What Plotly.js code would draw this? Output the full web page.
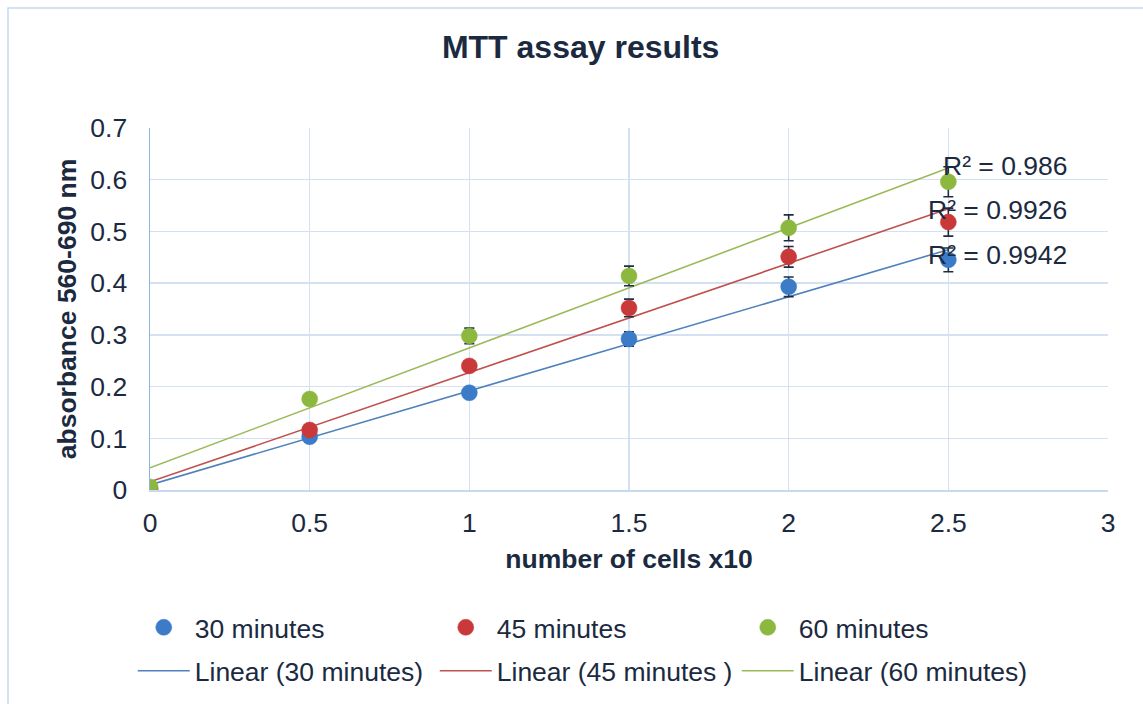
<!DOCTYPE html>
<html>
<head>
<meta charset="utf-8">
<script src="https://cdn.plot.ly/plotly-3.0.1.min.js"></script>
<style>
html,body{margin:0;padding:0;background:#fff;}
#chart{width:1143px;height:704px;}
</style>
</head>
<body>
<div id="chart"></div>
<script>
// ---- data ----
const cells = [0, 0.5, 1, 1.5, 2, 2.5];
const seriesNames = ['30 minutes', '45 minutes', '60 minutes'];
const trendNames = ['Linear (30 minutes)', 'Linear (45 minutes )', 'Linear (60 minutes)'];
const abs30 = [0.003, 0.103, 0.188, 0.292, 0.393, 0.445];
const abs45 = [0.002, 0.116, 0.240, 0.352, 0.451, 0.518];
const abs60 = [0.006, 0.176, 0.298, 0.414, 0.507, 0.596];
const err30 = [0.003, 0.005, 0.005, 0.014, 0.019, 0.023];
const err45 = [0.002, 0.005, 0.008, 0.017, 0.020, 0.027];
const err60 = [0.003, 0.005, 0.015, 0.019, 0.025, 0.029];
const r2Labels = ['R² = 0.9942', 'R² = 0.9926', 'R² = 0.986'];
const xTicks = [0, 0.5, 1, 1.5, 2, 2.5, 3];
const yTicks = [0, 0.1, 0.2, 0.3, 0.4, 0.5, 0.6, 0.7];

const markerColors = ['#3b7bc8', '#c9393a', '#8cb83f'];
const lineColors = ['#4f81bd', '#c0504d', '#9bbb59'];
const textColor = '#1b2a3f';
const FONT = 'Liberation Sans, Arial, sans-serif';
const labelShift = [-5, -1, 2];

function fit(x, y) {
  const n = x.length;
  const mx = x.reduce((a, b) => a + b, 0) / n;
  const my = y.reduce((a, b) => a + b, 0) / n;
  let sxy = 0, sxx = 0;
  for (let i = 0; i < n; i++) { sxy += (x[i] - mx) * (y[i] - my); sxx += (x[i] - mx) ** 2; }
  const m = sxy / sxx;
  return { m: m, b: my - m * mx };
}

const ys = [abs30, abs45, abs60];
const errs = [err30, err45, err60];
const traces = [];
const xMin = Math.min(...cells), xMax = Math.max(...cells);
const fits = ys.map(y => fit(cells, y));

// trendlines first (under markers)
fits.forEach((f, i) => {
  traces.push({
    x: [xMin, xMax], y: [f.b + f.m * xMin, f.b + f.m * xMax],
    mode: 'lines', type: 'scatter', name: trendNames[i],
    line: { color: lineColors[i], width: 1.6 },
    legend: 'legend2', hoverinfo: 'skip'
  });
});
ys.forEach((y, i) => {
  traces.push({
    x: cells, y: y, mode: 'markers', type: 'scatter', name: seriesNames[i],
    marker: { color: markerColors[i], size: 16, line: { width: 0.5, color: markerColors[i] } },
    error_y: { type: 'data', array: errs[i], visible: true, color: '#1f2d44', thickness: 1.6, width: 5 },
    legend: 'legend'
  });
});

const annotations = fits.map((f, i) => ({
  x: xMax, y: f.b + f.m * xMax, xref: 'x', yref: 'y',
  text: r2Labels[i], showarrow: false, xanchor: 'right', yanchor: 'middle',
  xshift: 121, yshift: labelShift[i],
  font: { family: FONT, size: 26.5, color: textColor }
}));

const layout = {
  width: 1143, height: 704,
  margin: { l: 150, r: 35, t: 128, b: 214, autoexpand: false },
  paper_bgcolor: '#ffffff', plot_bgcolor: '#ffffff',
  font: { family: FONT, size: 26, color: textColor },
  title: { text: '<b>MTT assay results</b>', x: 0.508, xanchor: 'center', y: 0.933, yanchor: 'middle',
           font: { family: FONT, size: 32, color: textColor } },
  xaxis: {
    range: [0, 3], tickvals: xTicks, ticktext: xTicks.map(String),
    showgrid: true, gridcolor: '#d3e1f3', gridwidth: 1.5,
    showline: true, linecolor: '#c6d9f1', linewidth: 1.5, zeroline: false,
    ticks: '', ticklen: 0, ticklabelstandoff: 9, tickfont: { size: 26.5, color: textColor },
    title: { text: '<b>number of cells x10</b>', font: { size: 26.5, color: textColor }, standoff: 12 },
    mirror: false
  },
  yaxis: {
    range: [0, 0.7], tickvals: yTicks, ticktext: yTicks.map(String),
    showgrid: true, gridcolor: '#d3e1f3', gridwidth: 1.5,
    showline: true, linecolor: '#8db3e2', linewidth: 1.5, zeroline: false,
    ticks: '', ticklabelstandoff: 16, tickfont: { size: 26.5, color: textColor },
    title: { text: '<b>absorbance 560-690 nm</b>', font: { size: 26.5, color: textColor }, standoff: 6 }
  },
  showlegend: true,
  legend: {
    orientation: 'h', x: -0.018, xanchor: 'left', y: -0.380, yanchor: 'middle',
    entrywidth: 235, entrywidthmode: 'pixels', itemwidth: 52,
    font: { size: 26.5, color: textColor }, bgcolor: 'rgba(0,0,0,0)', traceorder: 'normal'
  },
  legend2: {
    orientation: 'h', x: -0.018, xanchor: 'left', y: -0.500, yanchor: 'middle',
    entrywidth: 235, entrywidthmode: 'pixels', itemwidth: 52,
    font: { size: 26.5, color: textColor }, bgcolor: 'rgba(0,0,0,0)', traceorder: 'normal'
  },
  annotations: annotations,
  shapes: [{
    type: 'path', xref: 'paper', yref: 'paper',
    path: 'M' + ((8 - 150) / 958) + ',' + ((490 - 710) / 362) + ' L' + ((8 - 150) / 958) + ',' + ((490 - 8) / 362) +
          ' L' + ((1150 - 150) / 958) + ',' + ((490 - 8) / 362),
    line: { color: '#c6d9f1', width: 1.5 }
  }]
};

Plotly.newPlot('chart', traces, layout, { displayModeBar: false, staticPlot: true });
</script>
</body>
</html>
